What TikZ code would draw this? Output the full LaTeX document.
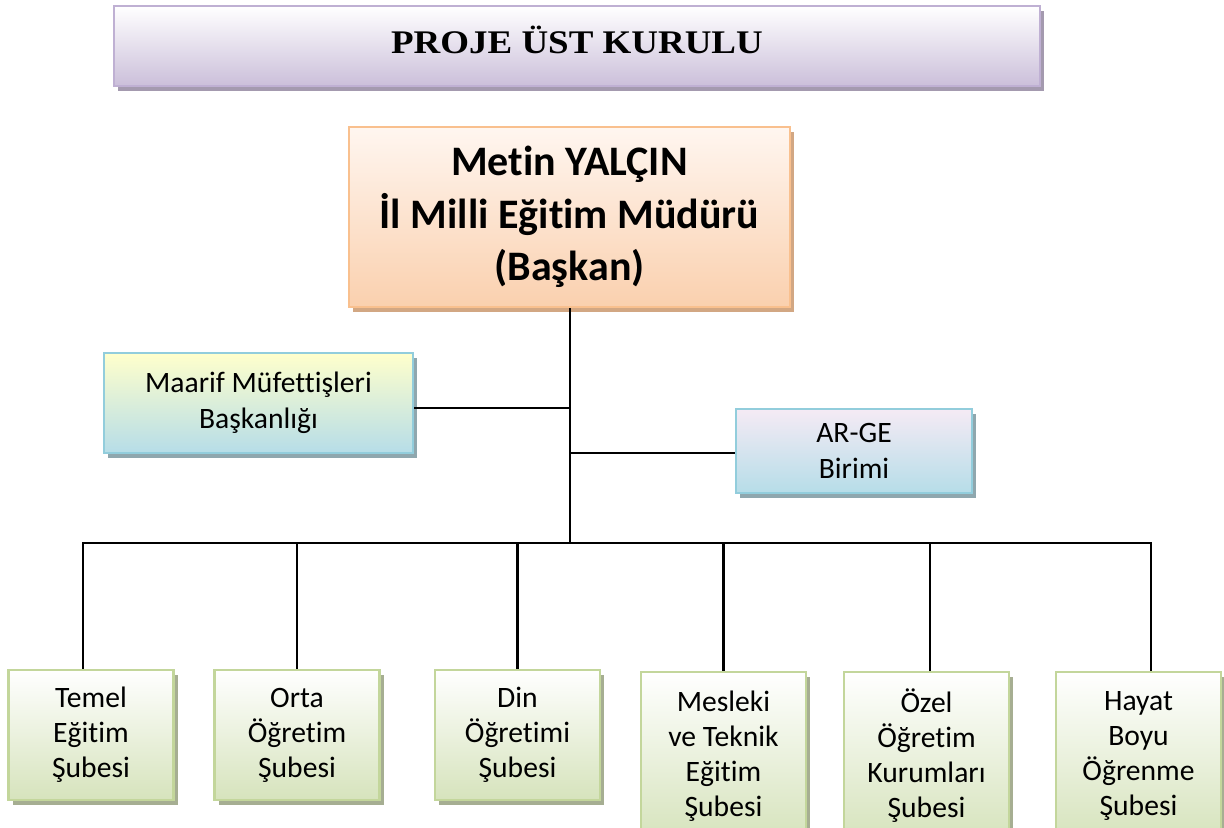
\documentclass[tikz,border=0pt]{standalone}
\usepackage{fontspec}
\setmainfont[Ligatures=NoCommon]{Carlito}
\newfontfamily\titlefont[FakeStretch=1.12]{Liberation Serif}
\usetikzlibrary{shadows}

\definecolor{titleline}{HTML}{BFB0D3}
\definecolor{titlefill}{HTML}{CBBFDA}
\definecolor{titleshade}{HTML}{A49AAF}
\definecolor{chiefline}{HTML}{F9C08E}
\definecolor{chieftop}{HTML}{FFF6F0}
\definecolor{chieffill}{HTML}{FAD0AE}
\definecolor{chiefshade}{HTML}{D2A783}
\definecolor{staffline}{HTML}{92CDDC}
\definecolor{stafffill}{HTML}{B6DDE8}
\definecolor{staffshade}{HTML}{8FA7AE}
\definecolor{greenline}{HTML}{C3D69B}
\definecolor{greenfill}{HTML}{D6E3BC}
\definecolor{greenshade}{HTML}{A6AE92}

\tikzstyle{box} = [rectangle, draw, line width=1.4pt, align=center, inner sep=0pt]
\tikzstyle{toptitle} = [box, draw=titleline, top color=white, bottom color=titlefill,
    minimum width=463pt, minimum height=40pt, text height=7pt, text depth=0pt,
    drop shadow={shadow xshift=2pt, shadow yshift=-2.5pt, fill=titleshade, opacity=1}]
\tikzstyle{chief} = [box, draw=chiefline, top color=chieftop, bottom color=chieffill,
    minimum width=220.5pt, minimum height=90pt,
    font=\bfseries\fontsize{21}{26.25}\selectfont,
    drop shadow={shadow xshift=2pt, shadow yshift=-2.5pt, fill=chiefshade, opacity=1}]
\tikzstyle{staff} = [box, draw=staffline, bottom color=stafffill,
    font=\fontsize{14.8}{18}\selectfont,
    drop shadow={shadow xshift=2pt, shadow yshift=-2.5pt, fill=staffshade, opacity=1}]
\tikzstyle{branch} = [box, draw=greenline, top color=white, bottom color=greenfill,
    minimum width=82.5pt, font=\fontsize{14.8}{17.5}\selectfont,
    drop shadow={shadow xshift=2pt, shadow yshift=-2.5pt, fill=greenshade, opacity=1}]
\tikzstyle{line} = [draw, line width=1.3pt, color=black]

\begin{document}
\begin{tikzpicture}[x=0.5pt, y=-0.5pt, node distance=2.5cm, auto]
    \useasboundingbox (0,0) rectangle (1224,827);
    % Place nodes

    \node [toptitle] (board) at (577,46) {\titlefont\bfseries\fontsize{16.5}{20}\selectfont PROJE ÜST KURULU};

    \node [chief] (director) at (569.5,217) {Metin YALÇIN\\İl Milli Eğitim Müdürü\\(Başkan)};

    \node [staff, top color=yellow!20, minimum width=154.5pt, minimum height=50pt] (maarif) at (258.5,403) {Maarif Müfettişleri\\Başkanlığı};
    \node [staff, top color=violet!8, minimum width=118pt, minimum height=42pt] (arge) at (854,451) {AR-GE\\Birimi};

    \node [branch, minimum height=65pt] (temel) at (91,735) {Temel\\Eğitim\\Şubesi};
    \node [branch, minimum height=65pt] (orta) at (297,735) {Orta\\Öğretim\\Şubesi};
    \node [branch, minimum height=65pt] (din) at (517.5,735) {Din\\Öğretimi\\Şubesi};
    \node [branch, minimum height=84pt] (mesleki) at (723.5,756) {Mesleki\\ve Teknik\\Eğitim\\Şubesi};
    \node [branch, minimum height=84pt] (ozel) at (926.5,756) {Özel\\Öğretim\\Kurumları\\Şubesi};
    \node [branch, minimum height=84pt] (hayat) at (1138.5,756) {Hayat\\Boyu\\Öğrenme\\Şubesi};

    \coordinate (jm) at (570,408);
    \coordinate (ja) at (570,453);
    \coordinate (bus) at (570,543);
    \coordinate (busL) at (83,543);
    \coordinate (busR) at (1151,543);
    \coordinate (dozel) at (930,543);

    % Draw edges
    \path [line] (director.south -| bus) -- (bus);
    \path [line] (maarif.east |- jm) -- (jm);
    \path [line] (ja) -- (arge.west |- ja);
    \path [line] (busL |- temel.north) -- (busL) -- (busR) -- (busR |- hayat.north);
    \path [line] (orta.north |- bus) -- (orta.north);
    \path [line] (din.north |- bus) -- (din.north);
    \path [line] (mesleki.north |- bus) -- (mesleki.north);
    \path [line] (dozel) -- (dozel |- ozel.north);

\end{tikzpicture}
\end{document}
